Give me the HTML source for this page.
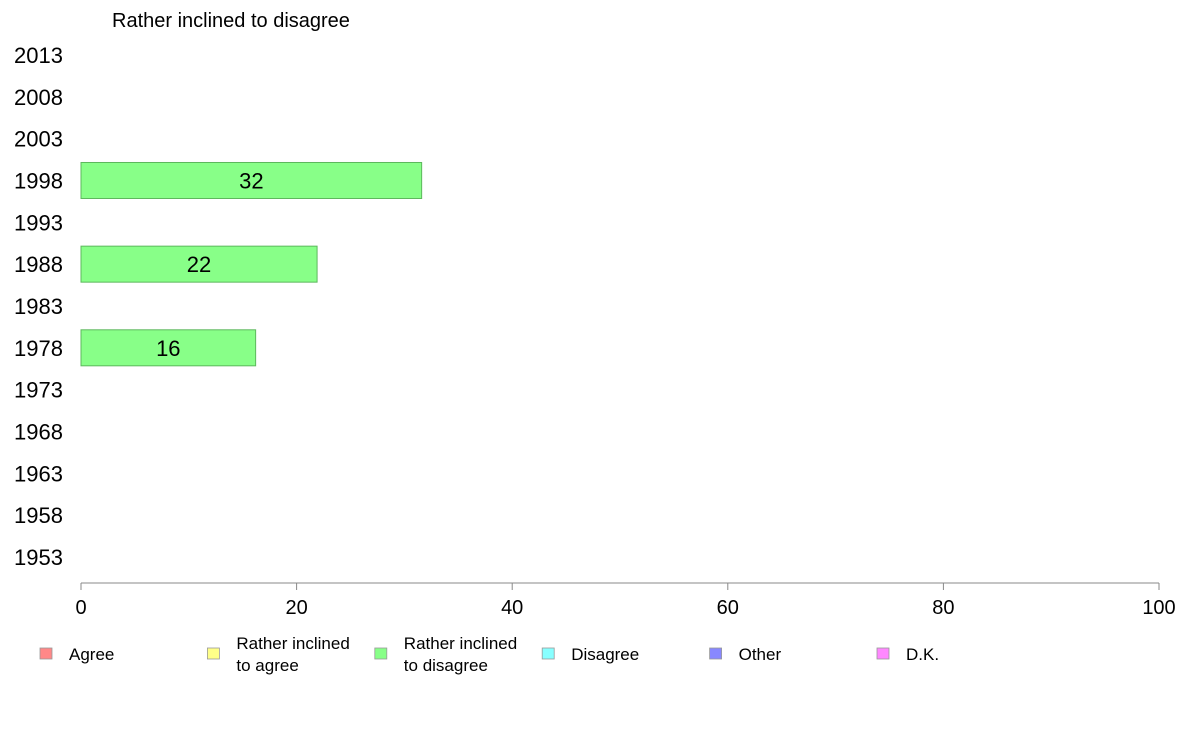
<!DOCTYPE html>
<html><head><meta charset="utf-8">
<style>
body{margin:0;background:#fff;font-family:"Liberation Sans",Arial,sans-serif;}
svg text{font-family:"Liberation Sans",Arial,sans-serif;}
</style></head>
<body>
<svg width="1188" height="736" viewBox="0 0 1188 736" xmlns="http://www.w3.org/2000/svg">
<text x="112" y="27" font-size="20" fill="#000">Rather inclined to disagree</text>
<g id="yaxis"></g>
<g id="bars"></g>
<g id="xaxis"></g>
<g id="legend"></g>
</svg>
<script>
const years = ["2013","2008","2003","1998","1993","1988","1983","1978","1973","1968","1963","1958","1953"];
const barYears = ["1998","1988","1978"];
const barValues = [31.6, 21.9, 16.2];
const barLabels = ["32","22","16"];
const xTicks = [0,20,40,60,80,100];
const legendNames = [["Agree"],["Rather inclined","to agree"],["Rather inclined","to disagree"],["Disagree"],["Other"],["D.K."]];
const legendColors = ["#ff8888","#ffff88","#88ff88","#88ffff","#8888ff","#ff88ff"];

const NS="http://www.w3.org/2000/svg";
const x0=81,x1=1159,yTop=55,yStep=41.83;
const xs=v=>x0+(v/100)*(x1-x0);
const ys=yr=>yTop+years.indexOf(yr)*yStep;
function mk(tag,attrs,parent){const e=document.createElementNS(NS,tag);for(const k in attrs)e.setAttribute(k,attrs[k]);parent.appendChild(e);return e;}

const ya=document.getElementById('yaxis');
years.forEach(y=>{
  const t=mk('text',{x:14,y:ys(y)+8,'font-size':22},ya);
  
  
  t.textContent=y;
});

const bg=document.getElementById('bars');
barYears.forEach((y,i)=>{
  const c=ys(y);
  const r=mk('rect',{x:xs(0),y:c-18,width:xs(barValues[i])-xs(0),height:36,fill:'#88ff88',stroke:'#5cb85c','stroke-width':1},bg);
  
  
  const t=mk('text',{x:(xs(0)+xs(barValues[i]))/2,y:c+8,'font-size':22,'text-anchor':'middle'},bg);
  
  
  t.textContent=barLabels[i];
});

const xa=document.getElementById('xaxis');
const ln=mk('line',{x1:x0,x2:x1,y1:583,y2:583,stroke:'#888','stroke-width':1},xa);


xTicks.forEach(v=>{
  const tk=mk('line',{x1:xs(v),x2:xs(v),y1:583,y2:590,stroke:'#888','stroke-width':1},xa);
  
  
  const t=mk('text',{x:xs(v),y:614,'font-size':20,'text-anchor':'middle'},xa);
  
  
  t.textContent=v;
});

const lg=document.getElementById('legend');
legendNames.forEach((nm,i)=>{
  const bx=40+i*167.4;
  const g=mk('g',{},lg);
  
  
  mk('rect',{x:bx,y:648,width:12,height:11,fill:legendColors[i],stroke:'#999','stroke-width':0.8},g);
  nm.forEach((line,j)=>{
    const yy=nm.length===1?660:649+j*22;
    const t=mk('text',{x:bx+29,y:yy,'font-size':17},g);
    t.textContent=line;
  });
});
</script>
</body></html>
